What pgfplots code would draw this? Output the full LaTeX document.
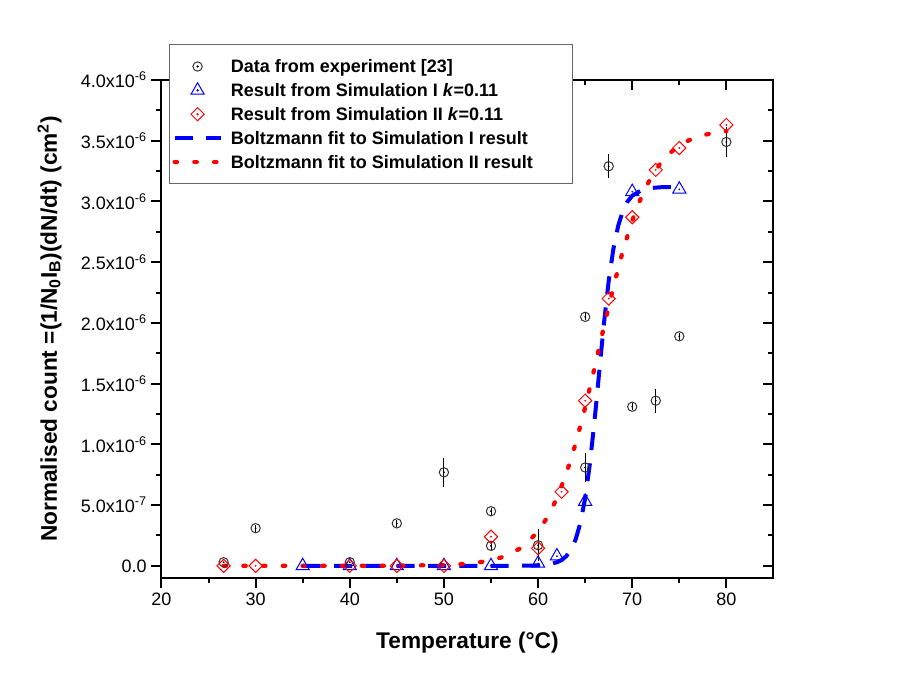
\documentclass[border=0pt]{standalone}
\usepackage{fontspec}
\setmainfont{Liberation Sans}
\usepackage{pgfplots}
\usepackage{pgfplotstable}
\pgfplotsset{compat=1.18}

\pgfplotstableread{
x y e
26.6 0.03 0.0
30 0.31 0.03
40 0.03 0.0
45 0.35 0.03
50 0.77 0.12
55 0.45 0.03
55 0.165 0.04
60 0.17 0.13
65 0.81 0.12
65 2.05 0.03
67.5 3.29 0.10
70 1.31 0.03
72.5 1.36 0.10
75 1.89 0.03
80 3.49 0.12
}\expdata

\pgfplotstableread{
x y
35 0
40 0
45 0
50 0
55 0
60 0.02
62 0.08
65 0.53
70 3.08
75 3.10
}\simone

\pgfplotstableread{
x y
26.6 0
30 0
40 0
45 0
50 0
55 0.24
60 0.145
62.5 0.61
65 1.36
67.5 2.20
70 2.87
72.5 3.26
75 3.44
80 3.63
}\simtwo

\begin{document}
\begin{tikzpicture}
\pgfplotsset{
  legmark/.style={legend image code/.code={\path[draw=none,fill=none] (0pt,-6.5pt) rectangle (42.25pt,6.5pt); \draw[##1] plot coordinates {(17.25pt,0pt)}; \fill[#1] (17.25pt,0pt) circle (0.45pt);}},
  legline/.style={legend image code/.code={\path[draw=none,fill=none] (0pt,-6.5pt) rectangle (42.25pt,6.5pt); \draw[##1] (0pt,0pt) -- (34.5pt,0pt);}},
  base/.style={scale only axis, width=459pt, height=373.5pt,
    xmin=20, xmax=85, ymin=-0.1, ymax=4.0,
    xtick={20,30,...,80}, minor x tick num=1,
    ytick={0,0.5,1,1.5,2,2.5,3,3.5,4}, minor y tick num=1,
    axis line style={line width=1.5pt},
    major tick length=7.5pt, minor tick length=3.75pt,
    tick style={line width=1.5pt, black}},
}
\begin{axis}[base, xtick pos=right, ytick pos=right, tick align=inside,
  xticklabels={}, yticklabels={}]
\end{axis}
\begin{axis}[base, xtick pos=left, ytick pos=left, tick align=outside,
  ticklabel style={font=\fontsize{13.5}{16}\selectfont},
  /pgf/number format/assume math mode=true,
  yticklabels={0.0, 5.0x10\textsuperscript{-7}, 1.0x10\textsuperscript{-6}, 1.5x10\textsuperscript{-6}, 2.0x10\textsuperscript{-6}, 2.5x10\textsuperscript{-6}, 3.0x10\textsuperscript{-6}, 3.5x10\textsuperscript{-6}, 4.0x10\textsuperscript{-6}},
  xlabel={Temperature (°C)},
  ylabel={Normalised count =(1/N\textsubscript{0}I\textsubscript{B})(dN/dt) (cm\textsuperscript{2})},
  label style={font=\fontsize{17}{20}\selectfont\bfseries},
  xlabel style={at={(axis description cs:0.5,-0.1406)}, anchor=base},
  ylabel style={at={(axis description cs:-0.1708,0.5)}, anchor=base},
  legend cell align=left,
  legend style={at={(0.01225,1.0723)}, anchor=north west, draw=black!60, line width=0.75pt,
    fill=white, inner xsep=2.25pt, inner ysep=10pt, row sep=4.9pt, column sep=0pt,
    font=\fontsize{13.5}{16}\selectfont\bfseries,
    nodes={inner sep=0pt, text height=9.7pt, text depth=0pt}},
]
\addplot[only marks, mark=o, mark size=3.5pt, black!80, line width=0.75pt, legmark=black,
  error bars/.cd, y dir=both, y explicit, error mark=none,
  error bar style={line width=0.75pt, black}]
  table[x=x, y=y, y error=e] {\expdata};
\addlegendentry{Data from experiment [23]}
\addplot[forget plot, only marks, mark=*, mark size=0.45pt, black] table[x=x, y=y] {\expdata};

\addplot[only marks, mark=triangle, mark size=5.7pt, blue, line width=0.75pt, legmark=blue]
  table[x=x, y=y] {\simone};
\addlegendentry{Result from Simulation I \textit{k}=0.11}
\addplot[forget plot, only marks, mark=*, mark size=0.45pt, blue] table[x=x, y=y] {\simone};

\addplot[only marks, mark=square, mark size=3.5pt, mark options={rotate=45}, red, line width=0.75pt, legmark=red]
  table[x=x, y=y] {\simtwo};
\addlegendentry{Result from Simulation II \textit{k}=0.11}
\addplot[forget plot, only marks, mark=*, mark size=0.45pt, red] table[x=x, y=y] {\simtwo};

\addplot[blue, line width=3pt, dash pattern=on 13.5pt off 10pt, legline] coordinates {
(35,0)(40,0)(45,0)(50,0)(55,0)(58,0.0006)(60,0.0035)(61,0.010)(62,0.029)(62.5,0.048)
(63,0.080)(63.5,0.134)(64,0.220)(64.5,0.355)(65,0.557)(65.5,0.839)(66,1.197)(66.5,1.601)
(67,1.999)(67.5,2.344)(68,2.610)(68.5,2.797)(69,2.921)(69.5,2.999)(70,3.047)(71,3.094)
(72,3.111)(73,3.117)(74,3.119)(75,3.120)};
\addlegendentry{Boltzmann fit to Simulation I result}

\addplot[red, line width=3.2pt, line cap=round, dash pattern=on 1.8pt off 13pt, legline] coordinates {
(26.6,0)(30,0)(35,0)(40,0.0002)(45,0.001)(50,0.007)(52,0.015)(54,0.032)(56,0.067)(57,0.097)
(58,0.140)(59,0.201)(60,0.285)(61,0.401)(62,0.557)(63,0.759)(64,1.009)(65,1.304)(66,1.631)
(67,1.970)(68,2.296)(69,2.591)(70,2.842)(71,3.043)(72,3.199)(73,3.315)(74,3.399)(75,3.460)
(76,3.503)(77,3.533)(78,3.554)(79,3.568)(80,3.578)};
\addlegendentry{Boltzmann fit to Simulation II result\hspace*{27.75pt}}
\end{axis}
\path (-121.1pt,-86.25pt) rectangle (551.65pt,433.5pt);
\end{tikzpicture}
\end{document}
